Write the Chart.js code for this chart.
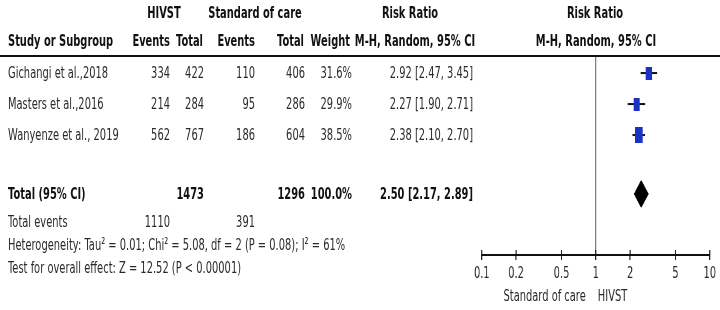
<!DOCTYPE html>
<html lang="en">
<head>
<meta charset="UTF-8" />
<title>Forest plot - HIVST vs standard of care</title>
<script src="https://cdn.jsdelivr.net/npm/chart.js"></script>
<style>
  html, body { margin: 0; padding: 0; background: #fff; overflow: hidden; }
  /* the whole figure is laid out 1200px wide, then squeezed to 720px like the original */
  #page { position: absolute; left: 0; top: 0; width: 1200px; height: 310px;
          transform: scaleX(0.6); transform-origin: 0 0;
          font-family: "DejaVu Sans", sans-serif; font-size: 16.5px; color: #2a2a2a; }
  #page canvas { position: absolute; left: 0; top: 0; }
  .t { position: absolute; white-space: nowrap; line-height: 20px; height: 20px; }
  .b { font-weight: bold; color: #111; }
  .rule { position: absolute; left: 0; width: 1200px; top: 55px; height: 2px; background: #111; }
</style>
</head>
<body>
<div id="page">
  <canvas id="forest" width="1200" height="310"></canvas>
  <div class="rule"></div>
</div>
<script>
// === data ===
const studies = ["Gichangi et al.,2018", "Masters et al.,2016", "Wanyenze et al., 2019"];
const hivstEvents = [334, 214, 562];
const hivstTotal = [422, 284, 767];
const socEvents = [110, 95, 186];
const socTotal = [406, 286, 604];
const weights = [31.6, 29.9, 38.5];
const rr = [2.92, 2.27, 2.38];
const rrLow = [2.47, 1.90, 2.10];
const rrHigh = [3.45, 2.71, 2.70];
const pooled = [2.50, 2.17, 2.89]; // estimate, low, high
const totalHivst = 1473;
const totalSoc = 1296;
const eventsHivst = 1110;
const eventsSoc = 391;
const heterogeneity = "Heterogeneity: Tau² = 0.01; Chi² = 5.08, df = 2 (P = 0.08); I² = 61%";
const overallTest = "Test for overall effect: Z = 12.52 (P < 0.00001)";
const xTicks = [0.1, 0.2, 0.5, 1, 2, 5, 10];

const S = 0.6;            // horizontal squeeze
const page = document.getElementById("page");
const blue = "#1a33c4";
const studyRows = studies.map((s, i) => i + 1);
const totalRow = 4.9;

// text helper, x and y are in final (720px) pixels
function put(text, x, y, align, cls) {
  const el = document.createElement("div");
  el.className = "t" + (cls ? " " + cls : "");
  el.textContent = text;
  const X = x / S;
  el.style.top = (y - 10) + "px";
  if (align === "right") el.style.right = (1200 - X) + "px";
  else if (align === "center") {
    el.style.left = (X - 300) + "px";
    el.style.width = "600px";
    el.style.textAlign = "center";
  } else el.style.left = X + "px";
  page.appendChild(el);
}

function box(w, h) {
  const c = document.createElement("canvas");
  c.width = Math.round(w);
  c.height = Math.round(h);
  const g = c.getContext("2d");
  g.fillStyle = blue;
  g.fillRect(0, 0, c.width, c.height);
  return c;
}

const tickStubs = {
  id: "tickStubs",
  afterDraw(c) {
    const sx = c.scales.x, ctx = c.ctx, yb = c.chartArea.bottom;
    ctx.save();
    ctx.strokeStyle = "#111";
    ctx.lineWidth = 1.7;
    xTicks.forEach((v) => {
      const px = sx.getPixelForValue(v);
      ctx.beginPath();
      ctx.moveTo(px, yb - 5);
      ctx.lineTo(px, yb);
      ctx.stroke();
    });
    ctx.restore();
  },
};

const half = 0.435; // diamond half height in row units
const datasets = studies.map((s, i) => ({
  data: [{ x: rrLow[i], y: studyRows[i] }, { x: rrHigh[i], y: studyRows[i] }],
  showLine: true,
  borderColor: "#111",
  borderWidth: 2,
  pointRadius: 0,
  order: 2,
}));
datasets.push({
  data: rr.map((v, i) => ({ x: v, y: studyRows[i] })),
  pointStyle: weights.map((w) => box(w * 0.34, w * 0.42)),
  pointRadius: 5,
  showLine: false,
  order: 1,
});
datasets.push({
  data: [
    { x: pooled[1], y: totalRow },
    { x: pooled[0], y: totalRow - half },
    { x: pooled[2], y: totalRow },
    { x: pooled[0], y: totalRow + half },
    { x: pooled[1], y: totalRow },
  ],
  showLine: true,
  fill: "shape",
  backgroundColor: "#000",
  borderColor: "#000",
  borderWidth: 1,
  pointRadius: 0,
  tension: 0,
  order: 1,
});

const chart = new Chart(document.getElementById("forest"), {
  type: "scatter",
  data: { datasets: datasets },
  options: {
    responsive: false,
    animation: false,
    layout: { padding: { left: 803, right: 17, top: 56, bottom: 0 } },
    plugins: { legend: { display: false }, tooltip: { enabled: false } },
    scales: {
      x: {
        type: "logarithmic",
        min: 0.1,
        max: 10,
        afterBuildTicks: (s) => { s.ticks = xTicks.map((v) => ({ value: v })); },
        afterFit: (s) => { s.height = 55; },
        ticks: {
          callback: (v) => String(v),
          color: "#2a2a2a",
          font: { family: "DejaVu Sans", size: 16.5 },
          padding: 4,
          maxRotation: 0,
          autoSkip: false,
        },
        grid: {
          color: (ctx) => (ctx.tick && ctx.tick.value === 1 ? "#777" : "rgba(0,0,0,0)"),
          tickColor: "#111",
          tickLength: 5,
          lineWidth: 1.7,
        },
        border: { color: "#111", width: 2 },
      },
      y: { type: "linear", reverse: true, min: 0.45, max: 6.87, display: false },
    },
  },
  plugins: [tickStubs],
});

// === table text ===
const ys = chart.scales.y;
put("HIVST", 164, 13, "center", "b");
put("Standard of care", 255, 13, "center", "b");
put("Risk Ratio", 410, 13, "center", "b");
put("Risk Ratio", 595, 13, "center", "b");
put("Study or Subgroup", 8, 41, "left", "b");
put("Events", 170, 41, "right", "b");
put("Total", 203, 41, "right", "b");
put("Events", 255, 41, "right", "b");
put("Total", 304, 41, "right", "b");
put("Weight", 350, 41, "right", "b");
put("M-H, Random, 95% CI", 415, 41, "center", "b");
put("M-H, Random, 95% CI", 596, 41, "center", "b");

studies.forEach((s, i) => {
  const y = ys.getPixelForValue(studyRows[i]);
  put(s, 8, y, "left");
  put(String(hivstEvents[i]), 170, y, "right");
  put(String(hivstTotal[i]), 204, y, "right");
  put(String(socEvents[i]), 255, y, "right");
  put(String(socTotal[i]), 305, y, "right");
  put(weights[i].toFixed(1) + "%", 352, y, "right");
  put(rr[i].toFixed(2) + " [" + rrLow[i].toFixed(2) + ", " + rrHigh[i].toFixed(2) + "]", 473, y, "right");
});

const yt = ys.getPixelForValue(totalRow);
put("Total (95% CI)", 8, yt, "left", "b");
put(String(totalHivst), 204, yt, "right", "b");
put(String(totalSoc), 305, yt, "right", "b");
put("100.0%", 352, yt, "right", "b");
put(pooled[0].toFixed(2) + " [" + pooled[1].toFixed(2) + ", " + pooled[2].toFixed(2) + "]", 473, yt, "right", "b");

put("Total events", 8, 222, "left");
put(String(eventsHivst), 170, 222, "right");
put(String(eventsSoc), 255, 222, "right");
put(heterogeneity, 8, 245, "left");
put(overallTest, 8, 268, "left");

const one = chart.scales.x.getPixelForValue(1) * S;
put("Standard of care", one - 10, 296, "right");
put("HIVST", one + 2, 296, "left");
</script>
</body>
</html>
